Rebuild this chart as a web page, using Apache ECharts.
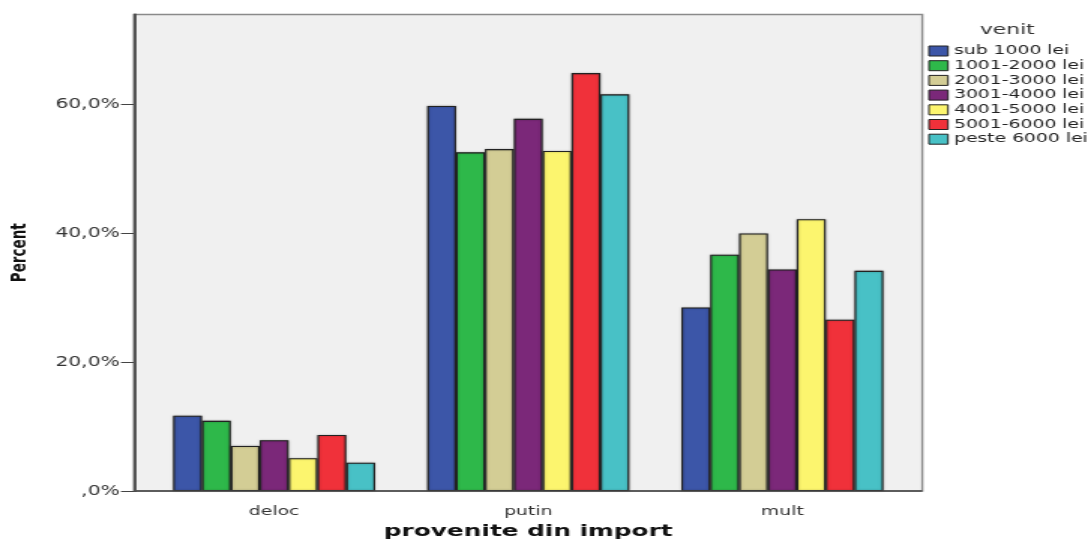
<!DOCTYPE html>
<html><head><meta charset="utf-8">
<script src="https://cdn.jsdelivr.net/npm/echarts@6/dist/echarts.min.js"></script>
<style>
html,body{margin:0;padding:0;background:#fff;overflow:hidden}
#wrap{width:1088px;height:540px;overflow:hidden}
#c{width:725px;height:540px;transform:scaleX(1.5007);transform-origin:0 0}
</style>
</head><body><div id="wrap"><div id="c"></div></div>
<script>
const categories = ['deloc', 'putin', 'mult'];
const seriesNames = ['sub 1000 lei', '1001-2000 lei', '2001-3000 lei', '3001-4000 lei', '4001-5000 lei', '5001-6000 lei', 'peste 6000 lei'];
const sub1000 = [11.7, 59.8, 28.5];
const v1001_2000 = [10.9, 52.6, 36.7];
const v2001_3000 = [7.0, 53.1, 40.0];
const v3001_4000 = [7.9, 57.8, 34.4];
const v4001_5000 = [5.1, 52.8, 42.2];
const v5001_6000 = [8.7, 64.9, 26.6];
const peste6000 = [4.4, 61.6, 34.2];
const yTicks = [0, 20, 40, 60];
const colors = ['#3c56a8', '#2eb84a', '#d3cd95', '#7b2879', '#fcf56e', '#f0313a', '#48c1c6'];
const allData = [sub1000, v1001_2000, v2001_3000, v3001_4000, v4001_5000, v5001_6000, peste6000];

const chart = echarts.init(document.getElementById('c'));
const font = 'DejaVu Sans';
const W = 725;
const plotL = 89.3, plotR = 614.6, plotT = 14.5, plotB = 491;
const yMax = 74;
chart.setOption({
  animation: false,
  backgroundColor: '#ffffff',
  grid: [
    { left: 98, right: 119, top: plotT, bottom: 540 - plotB, show: false, containLabel: false, outerBoundsMode: 'none' },
    { left: plotL, right: W - plotR, top: plotT, bottom: 540 - plotB, show: false, containLabel: false, outerBoundsMode: 'none' }
  ],
  legend: {
    orient: 'vertical', left: 618.5, top: 44.5, padding: 0,
    itemWidth: 12.7, itemHeight: 10, itemGap: 1.7,
    icon: 'rect',
    itemStyle: { borderColor: '#222', borderWidth: 1 },
    textStyle: { fontFamily: font, fontSize: 12.5, color: '#222', padding: [0, 0, 0, -1] },
    data: seriesNames
  },
  graphic: [
    { type: 'rect', z: -10, shape: { x: plotL, y: plotT, width: plotR - plotL, height: plotB - plotT },
      style: { fill: '#f0f0f0', stroke: '#8a8a8a', lineWidth: 1.4 } },
    { type: 'line', z: 100, shape: { x1: plotL, y1: plotB, x2: plotR, y2: plotB },
      style: { stroke: '#444', lineWidth: 1.6 } },
    { type: 'line', z: 100, shape: { x1: plotL + 0.6, y1: plotT, x2: plotL + 0.6, y2: plotB },
      style: { stroke: '#555', lineWidth: 2 } },
    { type: 'text', left: 653, top: 22.5, style: { text: 'venit', font: '14.5px "DejaVu Sans"', fill: '#333' } }
  ],
  xAxis: [{
    type: 'category', data: categories, gridIndex: 0,
    name: 'provenite din import', nameLocation: 'middle', nameGap: 30,
    nameTextStyle: { fontFamily: font, fontSize: 16.5, fontWeight: 'bold', color: '#111' },
    axisLine: { show: false },
    axisTick: { alignWithLabel: true, length: 6, lineStyle: { color: '#222', width: 1 } },
    axisLabel: { fontFamily: font, fontSize: 12.5, color: '#333', margin: 14 }
  }, {
    type: 'value', gridIndex: 1, show: false, min: 0, max: 1
  }],
  yAxis: [{
    type: 'value', gridIndex: 0, min: 0, max: yMax, show: false
  }, {
    type: 'value', gridIndex: 1, min: 0, max: yMax, interval: 20,
    name: 'Percent', nameLocation: 'middle', nameGap: 68.6, nameRotate: 90,
    nameTextStyle: { fontFamily: font, fontSize: 13.5, fontWeight: 'bold', color: '#111' },
    axisLine: { show: true, onZero: false, lineStyle: { color: '#4a4a4a', width: 2 } },
    axisTick: { show: true, length: 8.7, lineStyle: { color: '#444' }, customValues: yTicks },
    splitLine: { show: false },
    axisLabel: {
      fontFamily: font, fontSize: 13.5, color: '#333', margin: 9.5, customValues: yTicks,
      formatter: v => v === 0 ? ',0%' : v.toFixed(1).replace('.', ',') + '%'
    }
  }],
  series: seriesNames.map((n, i) => ({
    name: n, type: 'bar', data: allData[i], xAxisIndex: 0, yAxisIndex: 0,
    barGap: '0%', barCategoryGap: '20.5%',
    itemStyle: { color: colors[i], borderColor: '#222', borderWidth: 1.1, shadowColor: 'rgba(0,0,0,0.3)', shadowBlur: 2 }
  }))
});
</script></body></html>
